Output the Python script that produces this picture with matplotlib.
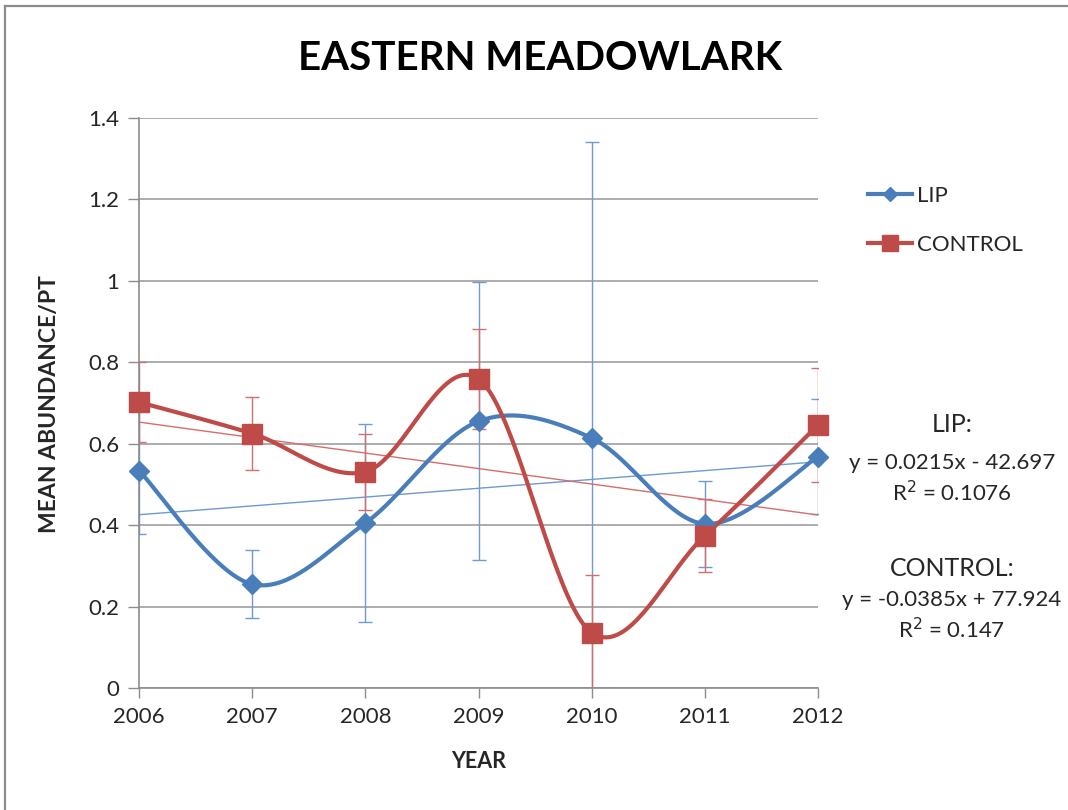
import matplotlib
matplotlib.use("Agg")
import matplotlib.pyplot as plt
import numpy as np
from matplotlib.lines import Line2D

# data
years = [2006, 2007, 2008, 2009, 2010, 2011, 2012]
lip_mean = [0.534, 0.255, 0.405, 0.655, 0.614, 0.403, 0.568]
lip_err = [0.156, 0.083, 0.243, 0.341, 0.726, 0.105, 0.141]
control_mean = [0.702, 0.625, 0.531, 0.759, 0.136, 0.374, 0.646]
control_err = [0.098, 0.089, 0.094, 0.123, 0.141, 0.090, 0.140]
y_ticks = [0, 0.2, 0.4, 0.6, 0.8, 1.0, 1.2, 1.4]

BLUE = "#4A7EBB"
BLUE_LIGHT = "#6C9BD2"
RED = "#BE4B48"
RED_LIGHT = "#D46E6C"
GRID = "#A6A6A6"
TEXT = "#262626"
FONT = ["Lato", "DejaVu Sans"]


def excel_smooth(xs, ys, n=40):
    """Bezier smoothing the way Excel draws a 'smoothed line'."""
    pts = np.column_stack([xs, ys]).astype(float)
    out = [pts[0]]
    for i in range(len(pts) - 1):
        p0 = pts[max(i - 1, 0)]
        p1 = pts[i]
        p2 = pts[i + 1]
        p3 = pts[min(i + 2, len(pts) - 1)]
        c1 = p1 + (p2 - p0) / 6
        c2 = p2 - (p3 - p1) / 6
        t = np.linspace(0, 1, n)[1:, None]
        seg = ((1 - t) ** 3) * p1 + 3 * ((1 - t) ** 2) * t * c1 + 3 * (1 - t) * t ** 2 * c2 + t ** 3 * p2
        out.extend(seg)
    out = np.array(out)
    return out[:, 0], out[:, 1]


def series(ax, mean, err, color, light, marker, ms):
    x = np.array(years, dtype=float)
    ax.errorbar(x, mean, yerr=err, fmt="none", ecolor=light, elinewidth=1.0,
                capsize=5, capthick=1.0, zorder=2)
    slope, icpt = np.polyfit(x, mean, 1)
    ax.plot(x, slope * x + icpt, color=light, linewidth=1.0, zorder=2)
    sx, sy = excel_smooth(x, mean)
    ax.plot(sx, sy, color=color, linewidth=3.0, solid_capstyle="round", zorder=3, clip_on=False)
    ax.plot(x, mean, linestyle="none", marker=marker, markersize=ms,
            markerfacecolor=color, markeredgecolor=color, zorder=4, clip_on=False)


def main() -> None:
    plt.rcParams.update({"font.family": FONT})
    fig = plt.figure(figsize=(10.68, 8.10), dpi=100, facecolor="white")
    # frame of the pasted chart: only top and left edges show
    bx, by = 4.5 / 1068, 1 - 5.5 / 810
    fig.add_artist(Line2D([bx, 1.0], [by, by], transform=fig.transFigure, color="#8C8C8C", linewidth=1.6))
    fig.add_artist(Line2D([bx, bx], [0.0, by], transform=fig.transFigure, color="#8C8C8C", linewidth=1.6))

    ax = fig.add_axes([139 / 1068, 1 - 688 / 810, (818 - 139) / 1068, (688 - 118) / 810])

    series(ax, lip_mean, lip_err, BLUE, BLUE_LIGHT, "D", 10)
    series(ax, control_mean, control_err, RED, RED_LIGHT, "s", 15)

    ax.set_xlim(years[0], years[-1])
    ax.set_ylim(0, 1.4)
    ax.set_xticks(years, [str(y) for y in years])
    ax.set_yticks(y_ticks, [f"{v:g}" for v in y_ticks])
    ax.grid(True, axis="y", color=GRID, linewidth=1.3)
    ax.set_axisbelow(True)
    for side in ("top", "right"):
        ax.spines[side].set_visible(False)
    for side in ("left", "bottom"):
        ax.spines[side].set_color("#8C8C8C")
        ax.spines[side].set_linewidth(1.2)
    ax.tick_params(axis="x", length=7, width=1.0, color="#8C8C8C", labelsize=16,
                   labelcolor=TEXT, pad=7)
    ax.tick_params(axis="y", length=8, width=1.0, color="#8C8C8C", labelsize=16,
                   labelcolor=TEXT, pad=6)

    ax.set_xlabel("YEAR", fontsize=15.5, fontweight="bold", color=TEXT, labelpad=17)
    fig.text(50 / 1068, 1 - 404 / 810, "MEAN ABUNDANCE/PT", rotation=90, ha="center", va="center",
             fontsize=16.5, fontweight="bold", color=TEXT)
    fig.text(540 / 1068, 1 - 58 / 810, "EASTERN MEADOWLARK", ha="center", va="center",
             fontsize=29, fontweight="bold", color="black")

    handles = [
        Line2D([], [], color=BLUE, linewidth=3.0, marker="D", markersize=7),
        Line2D([], [], color=RED, linewidth=3.0, marker="s", markersize=12),
    ]
    leg = fig.legend(handles, ["LIP", "CONTROL"], loc="upper left",
                     bbox_to_anchor=(848 / 1068, 1 - 166 / 810), frameon=False,
                     fontsize=16, handlelength=2.0, handletextpad=0.2, labelspacing=1.3)
    for t in leg.get_texts():
        t.set_color(TEXT)

    cx = 952 / 1068
    notes = [
        (424, "LIP:", 18),
        (463, "y = 0.0215x - 42.697", 16),
        (493, "R$^2$ = 0.1076", 16),
        (568, "CONTROL:", 18),
        (600, "y = -0.0385x + 77.924", 16),
        (630, "R$^2$ = 0.147", 16),
    ]
    for ypx, txt, size in notes:
        fig.text(cx, 1 - ypx / 810, txt, ha="center", va="center", fontsize=size, color=TEXT)

    fig.savefig("out.png", dpi=100, facecolor="white")


if __name__ == "__main__":
    main()
